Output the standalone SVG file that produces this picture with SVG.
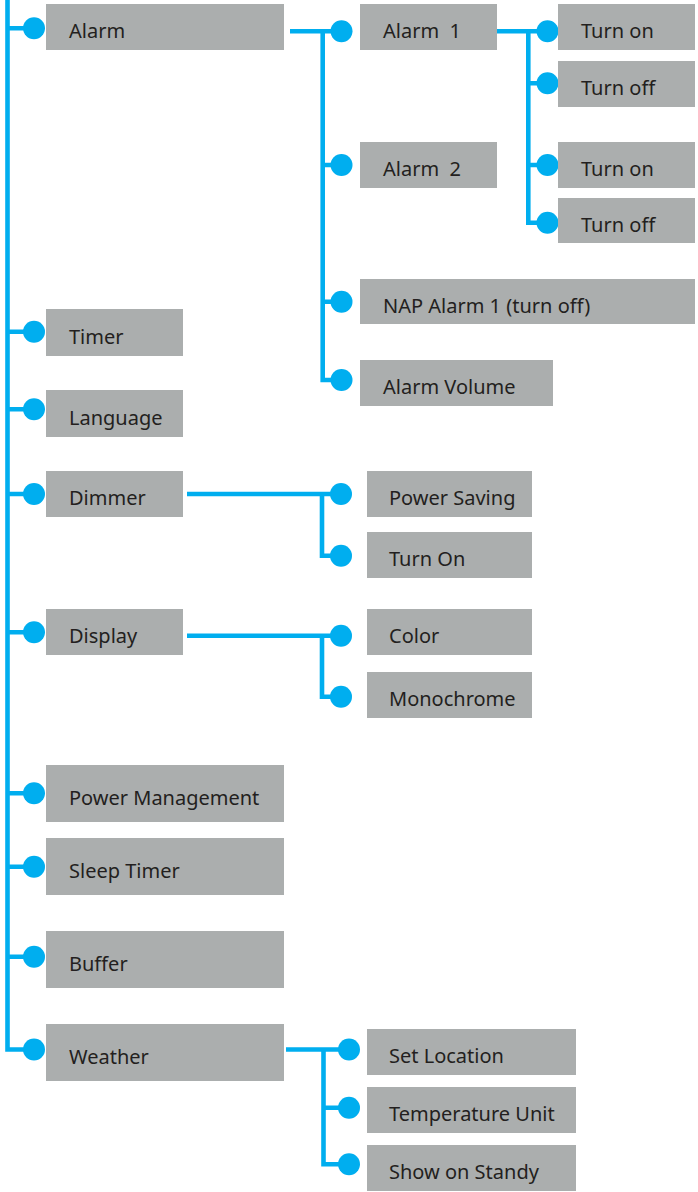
<svg xmlns="http://www.w3.org/2000/svg" width="698" height="1192" viewBox="0 0 698 1192">
<style>
.b{fill:#abaeae}
.t{font-family:"Noto Sans","Open Sans","Liberation Sans",sans-serif;font-size:20px;fill:#231f20;white-space:pre}
.c{fill:none;stroke:#00aeef;stroke-width:4.6}
.d{fill:#00aeef}
</style>
<rect width="698" height="1192" fill="#fff"/>
<g id="connectors">
<path class="c" d="M7.5,0 V1049.5 H34 M7.5,28.3 H34 M7.5,331.7 H34 M7.5,409.3 H34 M7.5,494 H34 M7.5,632.3 H34 M7.5,793.3 H34 M7.5,866.7 H34 M7.5,956.7 H34"/>
<path class="c" d="M290,31.3 H341 M322.7,31.3 V380 H341 M322.7,165 H341 M322.7,301.7 H341"/>
<path class="c" d="M497,31.3 H548 M528.3,31.3 V222.7 H548 M528.3,83.3 H548 M528.3,165 H548"/>
<path class="c" d="M187,494 H341 M322,494 V555.7 H341"/>
<path class="c" d="M187,635.7 H341 M322,635.7 V696.7 H341"/>
<path class="c" d="M286,1049.5 H349 M323.5,1049.5 V1164.3 H349 M323.5,1107.7 H349"/>
<circle class="d" cx="34" cy="28.3" r="11"/><circle class="d" cx="34" cy="331.7" r="11"/><circle class="d" cx="34" cy="409.3" r="11"/><circle class="d" cx="34" cy="494" r="11"/><circle class="d" cx="34" cy="632.3" r="11"/><circle class="d" cx="34" cy="793.3" r="11"/><circle class="d" cx="34" cy="866.7" r="11"/><circle class="d" cx="34" cy="956.7" r="11"/><circle class="d" cx="34" cy="1049.5" r="11"/>
<circle class="d" cx="341.5" cy="31.3" r="11"/><circle class="d" cx="341.5" cy="165" r="11"/><circle class="d" cx="341.5" cy="301.7" r="11"/><circle class="d" cx="341.5" cy="380" r="11"/>
<circle class="d" cx="547.5" cy="31.3" r="11"/><circle class="d" cx="547.5" cy="83.3" r="11"/><circle class="d" cx="547.5" cy="165" r="11"/><circle class="d" cx="547.5" cy="222.7" r="11"/>
<circle class="d" cx="341" cy="494" r="11"/><circle class="d" cx="341" cy="555.7" r="11"/><circle class="d" cx="341" cy="635.7" r="11"/><circle class="d" cx="341" cy="696.7" r="11"/>
<circle class="d" cx="349" cy="1049.5" r="11"/><circle class="d" cx="349" cy="1107.7" r="11"/><circle class="d" cx="349" cy="1164.3" r="11"/>
</g>
<g id="alarm"><rect class="b" x="46" y="4" width="238" height="46"/><text class="t" x="69" y="38">Alarm</text></g>
<g id="timer"><rect class="b" x="46" y="309" width="137" height="47"/><text class="t" x="69" y="343.5">Timer</text></g>
<g id="language"><rect class="b" x="46" y="390" width="137" height="47"/><text class="t" x="69" y="424.5">Language</text></g>
<g id="dimmer"><rect class="b" x="46" y="471" width="137" height="46"/><text class="t" x="69" y="505">Dimmer</text></g>
<g id="display"><rect class="b" x="46" y="609" width="137" height="46"/><text class="t" x="69" y="643">Display</text></g>
<g id="power-management"><rect class="b" x="46" y="765" width="238" height="57"/><text class="t" x="69" y="805">Power Management</text></g>
<g id="sleep-timer"><rect class="b" x="46" y="838" width="238" height="57"/><text class="t" x="69" y="878">Sleep Timer</text></g>
<g id="buffer"><rect class="b" x="46" y="931" width="238" height="57"/><text class="t" x="69" y="971">Buffer</text></g>
<g id="weather"><rect class="b" x="46" y="1024" width="238" height="57"/><text class="t" x="69" y="1064">Weather</text></g>
<g id="alarm1"><rect class="b" x="360" y="4" width="137" height="46"/><text class="t" x="383" y="38">Alarm  1</text></g>
<g id="alarm2"><rect class="b" x="360" y="142" width="137" height="46"/><text class="t" x="383" y="176">Alarm  2</text></g>
<g id="nap"><rect class="b" x="360" y="279" width="335" height="45"/><text class="t" x="383" y="312.5">NAP Alarm 1 (turn off)</text></g>
<g id="alarm-volume"><rect class="b" x="360" y="360" width="193" height="46"/><text class="t" x="383" y="394">Alarm Volume</text></g>
<g id="turn-on-1"><rect class="b" x="558" y="4" width="137" height="46"/><text class="t" x="581" y="38">Turn on</text></g>
<g id="turn-off-1"><rect class="b" x="558" y="61" width="137" height="46"/><text class="t" x="581" y="95">Turn off</text></g>
<g id="turn-on-2"><rect class="b" x="558" y="142" width="137" height="46"/><text class="t" x="581" y="176">Turn on</text></g>
<g id="turn-off-2"><rect class="b" x="558" y="198" width="137" height="45"/><text class="t" x="581" y="231.5">Turn off</text></g>
<g id="power-saving"><rect class="b" x="367" y="471" width="165" height="46"/><text class="t" x="389" y="505">Power Saving</text></g>
<g id="turn-on-dim"><rect class="b" x="367" y="532" width="165" height="46"/><text class="t" x="389" y="566">Turn On</text></g>
<g id="color"><rect class="b" x="367" y="609" width="165" height="46"/><text class="t" x="389" y="643">Color</text></g>
<g id="monochrome"><rect class="b" x="367" y="672" width="165" height="46"/><text class="t" x="389" y="706">Monochrome</text></g>
<g id="set-location"><rect class="b" x="367" y="1029" width="209" height="46"/><text class="t" x="389" y="1063">Set Location</text></g>
<g id="temperature-unit"><rect class="b" x="367" y="1087" width="209" height="46"/><text class="t" x="389" y="1121">Temperature Unit</text></g>
<g id="show-on-standy"><rect class="b" x="367" y="1145" width="209" height="46"/><text class="t" x="389" y="1179">Show on Standy</text></g>
</svg>
